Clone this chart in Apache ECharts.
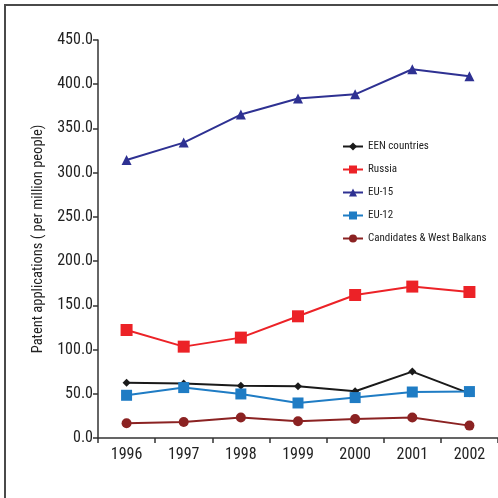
<!DOCTYPE html>
<html><head><meta charset="utf-8">
<script src="https://cdn.jsdelivr.net/npm/echarts@6/dist/echarts.min.js"></script>
<style>html,body{margin:0;padding:0;background:#fff}#c{width:498px;height:498px}</style>
</head><body><div id="c"></div>
<script>
const years = ['1996','1997','1998','1999','2000','2001','2002'];
const een = [62.6, 61.5, 59.2, 58.5, 52.8, 75.1, 50.5];
const russia = [122.1, 103.3, 113.5, 137.6, 161.7, 171.2, 165.1];
const eu15 = [314.3, 334.0, 365.7, 383.8, 388.6, 416.9, 409.0];
const eu12 = [48.3, 57.0, 49.8, 39.6, 45.7, 52.0, 52.5];
const cand = [16.6, 18.1, 23.1, 18.9, 21.5, 23.1, 14.0];
const seriesNames = ['EEN countries','Russia','EU-15','EU-12','Candidates & West Balkans'];
const FONT = '"Roboto Condensed","Liberation Sans Narrow",Roboto,sans-serif';
const chart = echarts.init(document.getElementById('c'), null, {renderer:'canvas'});
function s(name, data, color, symbol, size){
  return {name, type:'line', data, symbol, symbolSize:size, showSymbol:true,
    lineStyle:{color, width:2}, itemStyle:{color}, animation:false};
}
chart.setOption({
  animation:false,
  graphic:[{type:'rect', shape:{x:5, y:5, width:600, height:600}, style:{fill:null, stroke:'#4a4a4a', lineWidth:2}, z:-1}],
  grid:{left:98, top:40, width:406, height:398, containLabel:false},
  legend:{orient:'vertical', left:337, top:136, itemWidth:20, itemHeight:10, itemGap:12,
    data:seriesNames, textStyle:{fontFamily:FONT, fontSize:11, color:'#222'}},
  xAxis:{type:'category', data:years, boundaryGap:true,
    axisLine:{lineStyle:{color:'#333', width:1.5}},
    axisTick:{show:true, length:5, lineStyle:{color:'#333', width:1.5}},
    axisLabel:{fontFamily:FONT, fontSize:16, color:'#222', margin:9}},
  yAxis:{type:'value', min:0, max:450, interval:50,
    name:'Patent applications ( per million people)', nameLocation:'middle', nameGap:50,
    nameTextStyle:{fontFamily:FONT, fontSize:14.5, color:'#222'},
    splitLine:{show:false},
    axisLine:{show:true, lineStyle:{color:'#333', width:1.5}},
    axisTick:{show:true, length:5, lineStyle:{color:'#333', width:1.5}},
    axisLabel:{fontFamily:FONT, fontSize:16, color:'#222', margin:5, formatter:v=>v.toFixed(1)}},
  series:[
    s('EEN countries', een, '#1a1a1a', 'diamond', 8),
    s('Russia', russia, '#ec2227', 'rect', 12),
    s('EU-15', eu15, '#2e3192', 'triangle', 10),
    s('EU-12', eu12, '#1f7cc4', 'rect', 11),
    s('Candidates & West Balkans', cand, '#8b2222', 'circle', 10)
  ]
});
</script></body></html>
